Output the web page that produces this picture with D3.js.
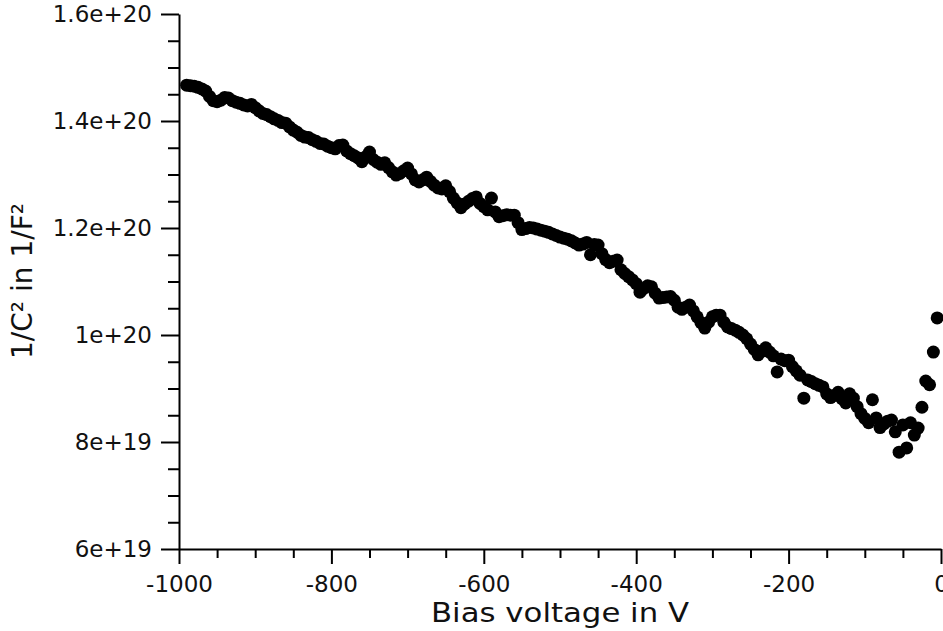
<!DOCTYPE html>
<html>
<head>
<meta charset="utf-8">
<script src="https://cdn.jsdelivr.net/npm/d3@7"></script>
<style>
  body { margin: 0; background: #fff; }
  text { font-family: "DejaVu Sans", sans-serif; fill: #111; }
</style>
</head>
<body>
<div id="chart-area"></div>
<script>
// bias voltage in V
const voltage = [
  -990,-985,-980,-975,-970,-965,-960,-955,-950,-945,-940,-935,-930,-925,-920,-915,-910,-905,-900,-895,
  -890,-885,-880,-875,-870,-865,-860,-855,-850,-845,-840,-835,-830,-825,-820,-815,-810,-805,-800,-795,
  -790,-785,-780,-775,-770,-765,-760,-755,-750,-745,-740,-735,-730,-725,-720,-715,-710,-705,-700,-695,
  -690,-685,-680,-675,-670,-665,-660,-655,-650,-645,-640,-635,-630,-625,-620,-615,-610,-605,-600,-595,
  -590,-585,-580,-575,-570,-565,-560,-555,-550,-545,-540,-535,-530,-525,-520,-515,-510,-505,-500,-495,
  -490,-485,-480,-475,-470,-465,-460,-455,-450,-445,-440,-435,-430,-425,-420,-415,-410,-405,-400,-395,
  -390,-385,-380,-375,-370,-365,-360,-355,-350,-345,-340,-335,-330,-325,-320,-315,-310,-305,-300,-295,
  -290,-285,-280,-275,-270,-265,-260,-255,-250,-245,-240,-235,-230,-225,-220,-215,-210,-205,-200,-195,
  -190,-185,-180,-175,-170,-165,-160,-155,-150,-145,-140,-135,-130,-125,-120,-115,-110,-105,-100,-95,
  -90,-85,-80,-75,-70,-65,-60,-55,-50,-45,-40,-35,-30,-25,-20,-15,-10,-5
];

// 1/C^2 in units of 1e18 1/F^2
const invC2 = [
  146.7,146.6,146.5,146.3,146.0,145.6,144.6,143.8,143.6,143.9,144.4,144.3,143.8,143.5,143.3,143.0,142.8,143.1,142.5,141.9,
  141.4,141.2,140.8,140.4,140.1,139.7,139.6,138.9,138.3,137.9,137.3,137.0,136.9,136.5,136.2,135.8,135.7,135.3,135.0,134.8,
  135.4,135.5,134.4,133.9,133.5,133.1,132.4,133.3,134.2,132.8,132.3,131.9,132.2,131.3,130.5,129.9,130.2,130.7,131.2,130.1,
  129.0,128.6,129.0,129.5,128.7,128.0,127.5,127.3,127.9,126.8,125.6,124.7,123.8,124.5,125.0,125.5,125.8,124.6,124.0,123.4,
  125.6,123.0,122.1,122.3,122.5,122.4,122.4,121.0,119.7,119.9,120.1,120.0,119.8,119.6,119.4,119.2,118.9,118.6,118.3,118.1,
  117.9,117.6,117.2,116.8,117.0,117.3,115.0,116.9,116.8,115.2,114.1,113.5,113.8,114.0,112.2,111.5,110.9,110.3,109.6,108.0,
  108.7,109.2,109.0,107.8,106.9,107.0,107.1,107.2,106.5,105.2,104.8,105.2,105.6,104.5,103.4,102.3,101.3,102.4,103.4,103.7,
  103.7,102.4,101.5,101.2,100.9,100.5,100.0,99.3,98.3,97.3,96.3,97.0,97.6,96.8,96.1,93.1,95.5,95.2,95.3,94.1,
  93.3,92.5,88.2,91.6,91.3,90.9,90.6,90.3,89.0,88.3,88.7,89.3,88.1,87.3,89.0,88.2,86.6,85.3,84.4,83.6,
  87.9,84.5,82.7,83.4,83.9,84.1,81.9,78.1,83.2,78.9,83.6,81.3,82.6,86.5,91.4,90.7,96.8,103.2
].map(v => v * 1e18);

const xTicks = [-1000, -800, -600, -400, -200, 0];
const xMinorTicks = [-950, -900, -850, -750, -700, -650, -550, -500, -450, -350, -300, -250, -150, -100, -50];
const yTicks = [6e19, 8e19, 1e20, 1.2e20, 1.4e20, 1.6e20];
const yTickLabels = ["6e+19", "8e+19", "1e+20", "1.2e+20", "1.4e+20", "1.6e+20"];
const yMinorTicks = [6.5e19, 7e19, 7.5e19, 8.5e19, 9e19, 9.5e19, 1.05e20, 1.1e20, 1.15e20,
                     1.25e20, 1.3e20, 1.35e20, 1.45e20, 1.5e20, 1.55e20];

const width = 943;
const height = 631;

const svg = d3.select("#chart-area")
    .append("svg")
    .attr("width", width)
    .attr("height", height);

const x = d3.scaleLinear().domain([-1000, 0]).range([179, 941]);
const y = d3.scaleLinear().domain([6e19, 1.6e20]).range([549, 14]);

// minor ticks first, then the major axes on top
svg.append("g")
    .attr("transform", "translate(0,549)")
    .call(d3.axisBottom(x).tickValues(xMinorTicks).tickSize(9).tickFormat(""))
    .call(g => g.select(".domain").remove());

svg.append("g")
    .attr("transform", "translate(179,0)")
    .call(d3.axisLeft(y).tickValues(yMinorTicks).tickSize(11).tickFormat(""))
    .call(g => g.select(".domain").remove());

const xAxis = svg.append("g")
    .attr("transform", "translate(0,549)")
    .call(d3.axisBottom(x).tickValues(xTicks).tickSize(15).tickSizeOuter(0).tickPadding(12)
        .tickFormat(d3.format("d")));

const yAxis = svg.append("g")
    .attr("transform", "translate(179,0)")
    .call(d3.axisLeft(y).tickValues(yTicks).tickSize(18).tickSizeOuter(0).tickPadding(9)
        .tickFormat((d, i) => yTickLabels[i]));

svg.selectAll(".tick line, .domain")
    .attr("stroke", "#000")
    .attr("stroke-width", 2);

svg.selectAll(".tick text")
    .attr("font-family", "DejaVu Sans")
    .attr("font-size", 23)
    .attr("fill", "#111");

xAxis.selectAll(".tick text").text(d => d === 0 ? "0" : String(d).replace("−", "-"));

svg.append("text")
    .attr("x", 560)
    .attr("y", 622)
    .attr("text-anchor", "middle")
    .attr("font-size", 27)
    .attr("textLength", 258)
    .attr("lengthAdjust", "spacingAndGlyphs")
    .text("Bias voltage in V");

svg.append("text")
    .attr("transform", "translate(32,281) rotate(-90)")
    .attr("text-anchor", "middle")
    .attr("font-size", 28)
    .text("1/C\u00B2 in 1/F\u00B2");

const points = voltage.map((v, i) => ({v: v, c: invC2[i]}));

svg.selectAll(".pt")
    .data(points)
    .enter()
    .append("circle")
    .attr("class", "pt")
    .attr("cx", d => x(d.v))
    .attr("cy", d => y(d.c))
    .attr("r", 6.5)
    .attr("fill", "#000");
</script>
</body>
</html>
